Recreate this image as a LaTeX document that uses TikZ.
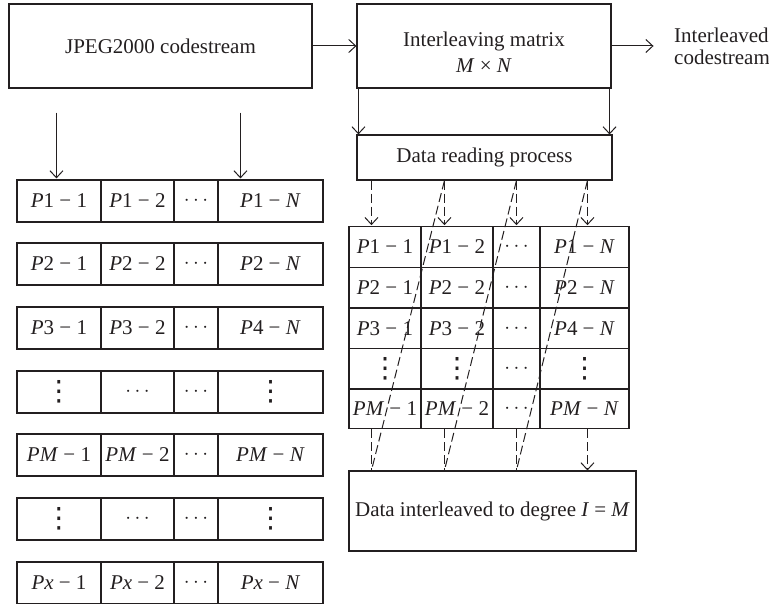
\documentclass[tikz,border=0pt]{standalone}
\usepackage{fontspec}
\setmainfont{Liberation Serif}
\newfontfamily\symfont{DejaVu Sans}
\usetikzlibrary{arrows.meta,calc}
\definecolor{ink}{HTML}{231F20}
\newcommand{\vi}[1]{\textit{#1}}
\newcommand{\mn}{\ −\ }
% vertical and horizontal ellipses scaled to the body text
\newcommand{\vd}{{\symfont\fontsize{28}{28}\selectfont ⋮}}
\newcommand{\hd}{$\cdots$}

\begin{document}
\begin{tikzpicture}[x=1pt,y=-1pt,
  every node/.style={text=ink, font=\fontsize{21}{25}\selectfont, inner sep=0pt},
  box/.style={draw=ink, line width=1.1pt, rectangle},
  arr/.style={draw=ink, line width=1pt, -{Straight Barb[length=7pt,width=13pt]}},
  dasharr/.style={arr, dash pattern=on 9pt off 4pt},
  dashline/.style={draw=ink, line width=1pt, dash pattern=on 9pt off 4pt},
]
\useasboundingbox (0,0) rectangle (769,604);

% top row of boxes
\node[box, minimum width=303pt, minimum height=84pt] (jpeg) at (160.5,46) {JPEG2000 codestream};
\node[box, minimum width=254pt, minimum height=84pt] (mat) at (484,46) {};
\node[anchor=base] (matA) at (484,47) {Interleaving matrix};
\node[anchor=base] (matB) at (484,73) {\vi{M} × \vi{N}};
\node[anchor=base west] (outA) at (674,43) {Interleaved};
\node[anchor=base west] (outB) at (674,65) {codestream};

\draw[arr] (jpeg.east) -- (mat.west);
\draw[arr] (mat.east) -- ($(mat.east)+(42,0)$) coordinate (outtip);

% reading stage
\node[box, minimum width=255pt, minimum height=45pt] (read) at (484.5,157.5) {Data reading process};
\draw[arr] ($(mat.south west)+(2,0)$) coordinate (m1) -- (m1 |- read.north);
\draw[arr] ($(mat.south east)+(-2,0)$) coordinate (m2) -- (m2 |- read.north);

% left: packet rows of the codestream
\foreach \r/\top/\ca/\cb/\cc/\cd in {
  1/180/{\vi{P}1\mn1}/{\vi{P}1\mn2}/{\hd}/{\vi{P}1\mn\vi{N}},
  2/243/{\vi{P}2\mn1}/{\vi{P}2\mn2}/{\hd}/{\vi{P}2\mn\vi{N}},
  3/307/{\vi{P}3\mn1}/{\vi{P}3\mn2}/{\hd}/{\vi{P}4\mn\vi{N}},
  4/371/{\vd}/{\hd}/{\hd}/{\vd},
  5/434/{\vi{PM}\mn1}/{\vi{PM}\mn2}/{\hd}/{\vi{PM}\mn\vi{N}},
  6/498/{\vd}/{\hd}/{\hd}/{\vd},
  7/562/{\vi{Px}\mn1}/{\vi{Px}\mn2}/{\hd}/{\vi{Px}\mn\vi{N}}}{
  \node[box, minimum width=84pt, minimum height=42pt] (L\r c1) at (59,\top+21) {\ca};
  \node[box, minimum width=73pt, minimum height=42pt] (L\r c2) at (137.5,\top+21) {\cb};
  \node[box, minimum width=44pt, minimum height=42pt] (L\r c3) at (196,\top+21) {\cc};
  \node[box, minimum width=105pt, minimum height=42pt] (L\r c4) at (270.5,\top+21) {\cd};
}
\draw[arr] ($(jpeg.south west)+(48,24)$) coordinate (a1) -- ($(a1 |- L1c1.north)+(0,-1)$);
\draw[arr] ($(jpeg.south west)+(232,24)$) coordinate (a2) -- ($(a2 |- L1c1.north)+(0,-1)$);

% right: interleaving matrix
\foreach \r/\cy/\ca/\cb/\cc/\cd in {
  1/247/{\vi{P}1\mn1}/{\vi{P}1\mn2}/{\hd}/{\vi{P}1\mn\vi{N}},
  2/287.5/{\vi{P}2\mn1}/{\vi{P}2\mn2}/{\hd}/{\vi{P}2\mn\vi{N}},
  3/328.5/{\vi{P}3\mn1}/{\vi{P}3\mn2}/{\hd}/{\vi{P}4\mn\vi{N}},
  4/369/{\vd}/{\vd}/{\hd}/{\vd},
  5/408.5/{\vi{PM}\mn1}/{\vi{PM}\mn2}/{\hd}/{\vi{PM}\mn\vi{N}}}{
  \node[box, minimum width=72pt, minimum height=40.5pt] (R\r c1) at (385,\cy) {\ca};
  \node[box, minimum width=72pt, minimum height=40.5pt] (R\r c2) at (457,\cy) {\cb};
  \node[box, minimum width=47pt, minimum height=40.5pt] (R\r c3) at (516.5,\cy) {\cc};
  \node[box, minimum width=89pt, minimum height=40.5pt] (R\r c4) at (584.5,\cy) {\cd};
}

% output block
\node[box, minimum width=287pt, minimum height=80pt] (out) at (492.5,511) {Data interleaved to degree \vi{I} = \vi{M}};

% reading order: column by column
\coordinate (r1) at ($(read.south west)+(15,0)$);
\coordinate (r2) at ($(read.south west)+(88,0)$);
\coordinate (r3) at ($(read.south west)+(160,0)$);
\coordinate (r4) at ($(read.south west)+(231,0)$);
\coordinate (d1) at ($(out.north west)+(23,0)$);
\coordinate (d2) at ($(out.north west)+(96,0)$);
\coordinate (d3) at ($(out.north west)+(168,0)$);
\coordinate (d4) at ($(out.north west)+(239,0)$);
\foreach \k in {1,...,4}{
  \draw[dasharr] (r\k) -- ($(r\k |- R1c1.north)+(0,-1)$);
}
\foreach \k in {1,2,3}{
  \draw[dashline] (r\k |- R5c1.south) -- (d\k);
}
\draw[dasharr] (r4 |- R5c1.south) -- (d4);
\draw[dashline] (r2) -- (d1);
\draw[dashline] (r3) -- (d2);
\draw[dashline] (r4) -- (d3);
\end{tikzpicture}
\end{document}
